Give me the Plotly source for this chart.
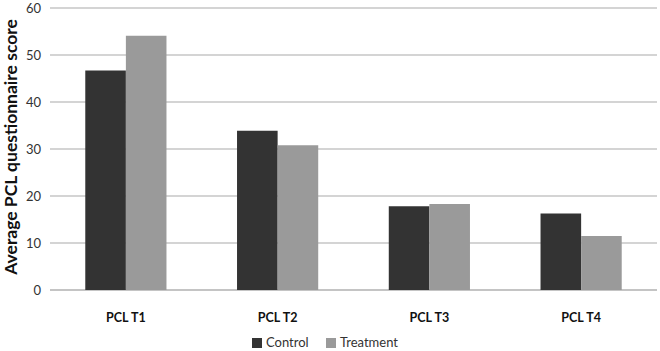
import plotly.graph_objects as go

categories = ["PCL T1", "PCL T2", "PCL T3", "PCL T4"]
control = [46.7, 33.9, 17.8, 16.3]
treatment = [54.1, 30.8, 18.3, 11.5]
series_names = ["Control", "Treatment"]
series_colors = ["#333333", "#9a9a9a"]

W, H = 660, 351
ML, MR, MT, MB = 50, 3, 4, 61
PW, PH = W - ML - MR, H - MT - MB

def px_x(p):
    return (p - ML) / PW

def px_y(p):
    return (H - MB - p) / PH

fig = go.Figure()
for name, vals, col in zip(series_names, [control, treatment], series_colors):
    fig.add_trace(go.Bar(name=name, x=categories, y=vals, marker_color=col,
                         marker_line_width=0, showlegend=False))

# manual legend (to sit inside the fixed bottom margin)
legend_pos = [(252, 265), (326, 339)]
for (sq, tx), name, col in zip(legend_pos, series_names, series_colors):
    fig.add_shape(type="rect", xref="paper", yref="paper",
                  x0=px_x(sq), x1=px_x(sq + 10), y0=px_y(348), y1=px_y(338),
                  fillcolor=col, line_width=0)
    fig.add_annotation(xref="paper", yref="paper", x=px_x(tx), y=px_y(342),
                       xanchor="left", yanchor="middle", text=name, showarrow=False,
                       borderpad=0, font=dict(size=13, color="#333333"))

fig.update_layout(
    width=W, height=H,
    margin=dict(l=ML, r=MR, t=MT, b=MB, autoexpand=False),
    barmode="group", bargap=0.465, bargroupgap=0,
    plot_bgcolor="white", paper_bgcolor="white",
    font=dict(family="Lato", color="#333333"),
    xaxis=dict(tickfont=dict(size=12.5, color="#111111"),
               showline=False, ticks="", showgrid=False, ticklabelstandoff=18,
               tickprefix="<b>", ticksuffix="</b>"),
    yaxis=dict(range=[0, 60.85], tickvals=[0, 10, 20, 30, 40, 50, 60],
               showgrid=True, gridcolor="#d4d4d4", gridwidth=1.5,
               zeroline=True, zerolinecolor="#c4c4c4", zerolinewidth=1.5,
               tickfont=dict(size=13, color="#333333"), ticks="", ticklabelstandoff=8,
               ticklabeloverflow="allow",
               title=dict(text="<b>Average PCL questionnaire score</b>",
                          font=dict(size=17.5, color="#111111"), standoff=9)),
)

fig.write_html("out.html")
